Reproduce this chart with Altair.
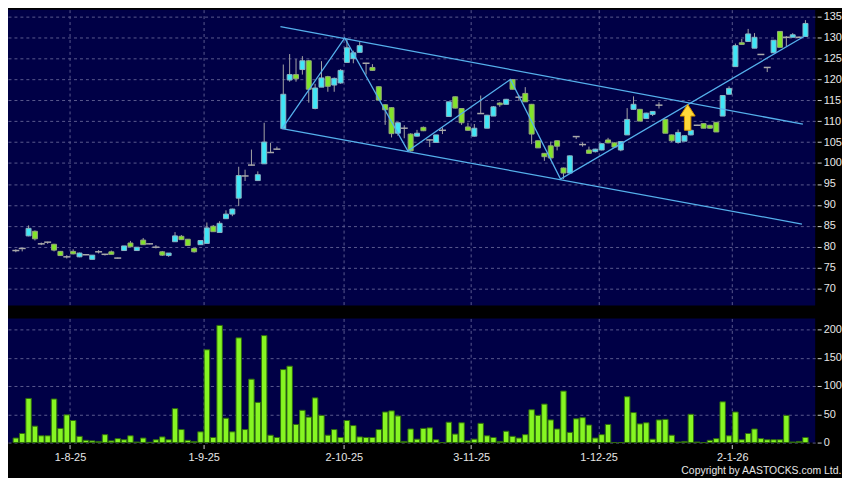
import altair as alt
import pandas as pd

# ---------------- data ----------------
opens = [79.1,79.6,82.6,83.7,80.7,81.1,80.6,78.9,77.6,78.9,
77.6,78.1,77.0,78.8,78.2,78.8,77.3,79.1,80.9,79.1,
81.6,80.7,79.9,78.8,77.9,81.2,82.5,81.8,79.6,80.5,
80.8,84.9,83.4,86.7,87.8,91.6,96.9,99.5,95.8,99.8,
102.5,103.3,108.2,119.8,121.1,122.3,124.4,113.0,118.1,120.6,
118.6,119.1,124.0,124.9,126.4,123.8,122.8,118.2,113.9,113.2,
107.1,108.3,106.9,106.4,108.5,105.5,104.9,107.8,111.1,115.8,
113.0,108.6,106.4,111.8,108.3,111.2,114.3,114.0,119.9,115.7,
116.6,114.0,105.3,102.3,104.1,105.3,98.8,97.6,106.3,104.4,
103.1,102.7,103.1,105.5,104.8,103.1,106.7,112.8,112.8,110.6,
111.6,113.8,110.4,106.7,104.9,105.2,106.7,109.0,109.4,109.0,
109.7,111.2,116.4,123.0,128.7,129.0,127.4,125.9,122.8,126.3,
131.4,130.0,130.0,130.0,130.2]

highs = [79.4,79.7,85.1,83.9,81.0,81.2,80.7,79.0,78.0,79.4,
78.6,78.2,78.0,79.2,78.3,79.1,77.4,80.2,81.4,79.9,
82.1,80.8,80.4,79.0,78.5,83.5,82.8,81.8,79.6,81.5,
85.8,85.2,86.1,88.7,89.1,99.1,98.4,103.2,98.0,109.6,
104.8,103.9,123.5,126.0,124.8,125.5,124.6,118.9,124.3,120.8,
120.4,122.4,129.8,126.8,128.9,123.9,123.6,118.3,114.0,113.3,
109.7,109.0,107.1,107.9,108.7,105.6,106.7,108.5,114.6,115.9,
113.1,109.6,109.3,116.1,111.5,113.6,114.5,115.3,120.0,116.2,
118.1,114.1,105.4,102.4,105.1,105.4,98.9,101.8,106.4,104.9,
103.9,103.4,104.7,106.0,104.9,105.2,113.1,115.9,112.9,112.0,
112.4,114.5,110.5,106.8,108.0,106.6,107.9,109.1,109.5,109.1,
109.8,116.2,118.3,128.5,129.6,132.0,131.0,126.0,122.9,129.3,
131.5,130.3,131.0,130.2,134.1]

lows = [78.7,78.9,82.5,81.5,80.4,80.7,78.9,77.8,77.2,78.2,
77.5,78.0,77.0,78.4,77.9,78.2,77.2,79.1,79.9,79.0,
80.5,80.6,79.6,77.8,77.6,81.2,81.7,80.3,78.6,80.5,
80.8,83.6,83.3,86.7,87.3,89.7,95.7,99.4,95.8,99.8,
102.4,103.2,108.2,119.4,119.4,121.1,114.4,112.8,118.1,117.0,
117.0,118.9,124.0,123.8,126.4,121.1,122.0,115.0,109.1,106.1,
106.5,105.9,102.7,106.3,107.6,103.8,104.9,106.9,111.1,113.0,
109.1,107.7,106.3,111.7,108.3,111.2,113.4,114.0,117.6,114.8,
114.6,104.5,103.6,100.5,100.7,103.0,96.2,97.5,105.7,103.9,
102.3,102.5,103.0,104.7,103.7,102.8,106.7,112.7,110.0,110.5,
111.2,113.0,107.1,105.0,104.6,105.2,106.6,108.9,108.3,108.2,
107.4,111.2,116.4,123.0,128.2,128.9,127.4,125.8,121.7,126.3,
127.6,127.8,130.0,129.8,130.2]

closes = [79.1,79.6,84.4,81.9,80.7,81.1,79.2,77.9,77.6,78.3,
78.5,78.1,78.0,78.8,78.2,78.2,77.3,80.2,80.0,79.9,
80.5,80.7,79.9,78.0,78.5,82.6,81.7,80.3,78.8,81.5,
84.5,83.6,85.6,87.8,89.0,97.0,96.9,99.5,97.2,105.0,
102.5,103.3,116.4,121.1,120.1,124.4,117.6,117.9,120.3,118.3,
120.2,122.1,127.5,126.3,128.0,123.8,122.1,115.0,112.7,107.0,
109.6,108.3,102.9,107.1,107.7,105.5,106.7,107.8,114.6,113.1,
109.6,107.8,108.3,111.8,111.4,113.4,113.9,115.2,117.6,115.7,
114.6,106.9,103.6,101.5,101.2,104.0,97.6,101.7,106.3,104.4,
102.3,103.3,104.6,104.8,103.8,105.1,110.4,114.0,110.0,111.9,
112.3,113.8,107.1,105.3,107.3,106.5,107.8,109.0,108.3,108.3,
107.4,116.1,117.8,128.0,128.3,130.8,130.0,125.9,122.8,129.3,
127.6,130.0,130.6,130.0,133.3]

volumes = [8,16,78,29,12,12,77,25,49,39,
11,4,3,2,14,3,7,5,12,1,
8,0.5,5,10,5,60,23,4,2,19,
164,9,207,43,19,185,23,112,71,189,
13,9,129,135,32,57,45,79,48,13,
23,9,39,30,10,9,9,23,54,56,
47,2,24,6,25,26,5,0,36,15,
35,3,6,34,12,9,2,20,11,8,
14,58,48,68,40,24,91,18,42,44,
31,8,14,32,0,0,81,53,33,35,
6,40,41,13,1,2,50,1,0,4,
7,72,12,54,5,16,24,7,5,5,
5,48,1,2,9]

price_ticks = [70, 75, 80, 85, 90, 95, 100, 105, 110, 115, 120, 125, 130, 135]
vol_ticks = [0, 50, 100, 150, 200]
month_pos = [8.5, 29.5, 51.5, 71.5, 91.5, 112.5]
month_labels = ["1-8-25", "1-9-25", "2-10-25", "3-11-25", "1-12-25", "2-1-26"]

# trend lines (candle index, price)
upper_x = [41.55, 123.6]
upper_y = [132.56, 109.27]
lower_x = [41.81, 123.45]
lower_y = [108.22, 85.43]
zig_x = [41.81, 51.65, 61.57, 77.68, 85.54, 123.9]
zig_y = [108.22, 129.86, 102.87, 119.93, 96.14, 130.31]

arrow_x = [105.5]
arrow_y = [110.9]

copyright_text = "Copyright by AASTOCKS.com Ltd."

# ---------------- tables ----------------
n = len(opens)
df = pd.DataFrame({"i": list(range(n)), "open": opens, "high": highs,
                   "low": lows, "close": closes, "vol": volumes})
df["bot"] = df[["open", "close"]].min(axis=1)
df["top"] = df[["open", "close"]].max(axis=1)
df["dir"] = ["up" if c > o else ("down" if c < o else "flat")
             for o, c in zip(opens, closes)]

rows = []
for seg, xs, ys in (("upper", upper_x, upper_y), ("lower", lower_x, lower_y), ("zig", zig_x, zig_y)):
    for k, (a, b) in enumerate(zip(xs, ys)):
        rows.append({"i": a, "p": b, "seg": seg, "ord": k})
lines_df = pd.DataFrame(rows)
arrow_df = pd.DataFrame({"i": arrow_x, "p": arrow_y})

# ---------------- styling ----------------
NAVY = "#000046"
GRID = "#5A5A8E"
TXT = "#E6E6E6"
FONT = "Liberation Sans"
CYAN = "#3FE6F6"
GREEN = "#82E42A"
LINE = "#55B0EC"

xscale = alt.Scale(domain=[-0.45, 124.75], nice=False, zero=False)
yscale = alt.Scale(domain=[65.97, 136.59], nice=False, zero=False)
vscale = alt.Scale(domain=[0, 219.3], nice=False, zero=False)

label_expr = ""
for v, l in zip(month_pos, month_labels):
    label_expr += f"datum.value == {v} ? '{l}' : "
label_expr += "''"

x_top_axis = alt.Axis(values=month_pos, labels=False, ticks=False, domain=False,
                      grid=True, gridColor=GRID, gridDash=[3, 3], gridWidth=1, title=None)
x_bot_axis = alt.Axis(values=month_pos, labelExpr=label_expr, domain=False,
                      grid=True, gridColor=GRID, gridDash=[3, 3], gridWidth=1,
                      ticks=True, tickSize=4, tickColor="#CFCFCF", offset=2,
                      labelPadding=3, labelColor=TXT, labelFont=FONT, labelFontSize=11,
                      labelFlush=False, labelOverlap=False, title=None)
y_axis = alt.Axis(orient="right", values=price_ticks, domain=False, grid=True,
                  gridColor=GRID, gridDash=[3, 3], gridWidth=1, ticks=True, tickSize=4,
                  tickColor="#CFCFCF", offset=2, labelPadding=2, labelColor=TXT,
                  labelFont=FONT, labelFontSize=11, labelFlush=False, title=None)
v_axis = alt.Axis(orient="right", values=vol_ticks, domain=False, grid=True,
                  gridColor=GRID, gridDash=[3, 3], gridWidth=1, ticks=True, tickSize=4,
                  tickColor="#CFCFCF", offset=2, labelPadding=2, labelColor=TXT,
                  labelFont=FONT, labelFontSize=11, labelFlush=False, title=None)


def X(field="i:Q", axis=x_top_axis):
    return alt.X(field, scale=xscale, axis=axis, title=None)


def Y(field):
    return alt.Y(field, scale=yscale, axis=y_axis, title=None)


base = alt.Chart(df)

wicks = base.mark_rule(color="#A4A4A4", strokeWidth=1).encode(
    x=X(), y=Y("low:Q"), y2="high:Q")

up = base.transform_filter("datum.dir == 'up'").mark_bar(
    size=5, fill=CYAN, stroke="#8CB4C4", strokeWidth=1).encode(
    x=X(), y=Y("bot:Q"), y2="top:Q")

down = base.transform_filter("datum.dir == 'down'").mark_bar(
    size=5, fill=GREEN, stroke="#94A87A", strokeWidth=1).encode(
    x=X(), y=Y("bot:Q"), y2="top:Q")

flat = base.transform_filter("datum.dir == 'flat'").mark_tick(
    orient="horizontal", size=7, thickness=1.5, color="#AAAAAA", opacity=1).encode(
    x=X(), y=Y("close:Q"))

trend = alt.Chart(lines_df).mark_line(color=LINE, strokeWidth=1.3).encode(
    x=X(), y=Y("p:Q"), detail="seg:N", order="ord:Q")

arrow_path = "M0,-1 L0.58,-0.1 L0.25,-0.1 L0.25,1 L-0.25,1 L-0.25,-0.1 L-0.58,-0.1 Z"
arrow = alt.Chart(arrow_df).mark_point(
    shape=arrow_path, size=676, filled=True, fill="#FFD83A", stroke="#D99A00",
    strokeWidth=1, opacity=1).encode(x=X(), y=Y("p:Q"))

top = alt.layer(wicks, up, down, flat, trend, arrow).properties(width=813, height=298)

vol = alt.Chart(df).mark_bar(size=5.5, fill="#86F522", stroke="#2E6A0E", strokeWidth=1).encode(
    x=X(axis=x_bot_axis),
    y=alt.Y("vol:Q", scale=vscale, axis=v_axis, title=None),
).properties(width=813, height=125)

chart = alt.vconcat(top, vol, spacing=13).properties(
    title=alt.TitleParams(copyright_text, orient="bottom", anchor="end",
                          color=TXT, font=FONT, fontSize=10.5, fontWeight="normal",
                          offset=4)
).configure(background="#000000", padding=0).configure_view(
    fill=NAVY, stroke=None)

chart.save("out.html", embed_options={"renderer": "svg", "actions": False})
